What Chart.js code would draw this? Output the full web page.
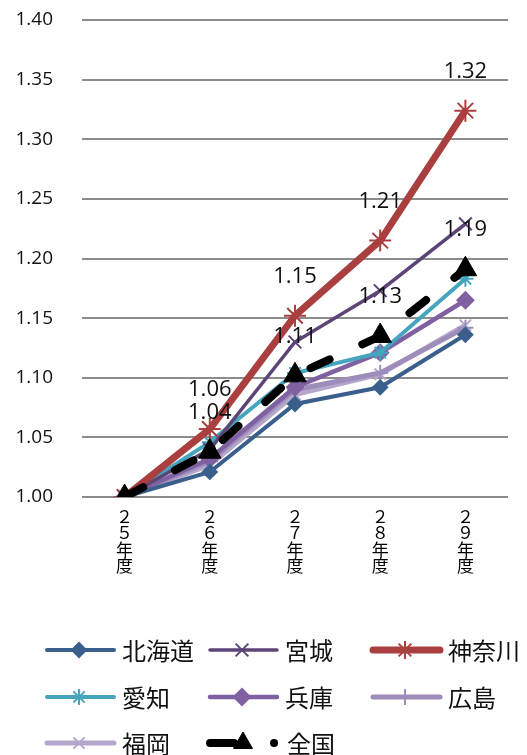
<!DOCTYPE html>
<html>
<head>
<meta charset="utf-8">
<script src="https://cdn.jsdelivr.net/npm/chart.js@4/dist/chart.umd.min.js"></script>
<style>
    html, body { margin: 0; padding: 0; background: #fff; }
    #wrap { width: 527px; height: 755px; }
</style>
</head>
<body>
<div id="wrap"><canvas id="chart" width="527" height="755"></canvas></div>
<script>
// categories (vertical labels, one char per line)
const years = [["２", "５", "年", "度"], ["２", "６", "年", "度"], ["２", "７", "年", "度"], ["２", "８", "年", "度"], ["２", "９", "年", "度"]];

// series values (index, 25年度 = 1.00)
const hokkaido = [1.00, 1.021, 1.078, 1.092, 1.136];
const miyagi = [1.00, 1.040, 1.130, 1.173, 1.229];
const kanagawa = [1.00, 1.057, 1.152, 1.215, 1.324];
const aichi = [1.00, 1.046, 1.104, 1.121, 1.183];
const hyogo = [1.00, 1.032, 1.092, 1.121, 1.165];
const hiroshima = [1.00, 1.030, 1.090, 1.104, 1.142];
const fukuoka = [1.00, 1.027, 1.086, 1.103, 1.144];
const zenkoku = [1.00, 1.038, 1.102, 1.135, 1.191];

// data labels shown on the chart
const kanagawaLabels = ["", "1.06", "1.15", "1.21", "1.32"];
const zenkokuLabels = ["", "1.04", "1.11", "1.13", "1.19"];

// y axis ticks
const yMin = 1.00;
const yMax = 1.40;
const yStep = 0.05;

const JP_FONT = "'Noto Sans CJK JP', 'Noto Sans', sans-serif";

function series(label, data, color, width, style, radius, extra) {
    return Object.assign({
        label: label,
        data: data,
        borderColor: color,
        backgroundColor: color,
        borderWidth: width,
        pointStyle: style,
        pointRadius: radius,
        pointHoverRadius: radius,
        pointBackgroundColor: color,
        pointBorderColor: color,
        pointBorderWidth: 2,
        tension: 0,
        fill: false,
        order: 2
    }, extra || {});
}

const datasets = [
    series("北海道", hokkaido, "#3a5f8c", 4, "rectRot", 7),
    series("宮城", miyagi, "#5c4576", 3.5, "crossRot", 9),
    series("神奈川", kanagawa, "#a9403f", 7, "star", 11, { order: 1, valueLabels: kanagawaLabels }),
    series("愛知", aichi, "#45a5bf", 4, "star", 8),
    series("兵庫", hyogo, "#7f61a1", 4.5, "rectRot", 8),
    series("広島", hiroshima, "#9e8cbb", 5, "cross", 8),
    series("福岡", fukuoka, "#b5a7cb", 5, "crossRot", 8),
    series("全国", zenkoku, "#000000", 8, "triangle", 13, {
        order: 0,
        borderDash: [21, 36],
        borderCapStyle: "round",
        pointBorderWidth: 1,
        valueLabels: zenkokuLabels,
        legendDash: [24, 40, 0.1, 100]
    })
];

// draws the text labels above selected points
const valueLabelPlugin = {
    id: "valueLabels",
    afterDatasetsDraw(chart) {
        const ctx = chart.ctx;
        ctx.save();
        ctx.font = "22px 'Open Sans', sans-serif";
        ctx.fillStyle = "#111";
        ctx.textAlign = "center";
        ctx.textBaseline = "middle";
        chart.data.datasets.forEach((ds, i) => {
            if (!ds.valueLabels) return;
            const meta = chart.getDatasetMeta(i);
            meta.data.forEach((pt, j) => {
                const txt = ds.valueLabels[j];
                if (txt) ctx.fillText(txt, pt.x, pt.y - 39);
            });
        });
        ctx.restore();
    }
};

// legend laid out in a 3-column grid like the original
const gridLegendPlugin = {
    id: "gridLegend",
    afterDraw(chart) {
        const ctx = chart.ctx;
        const colX = [44, 207, 370];
        const rowY = [650, 697, 743];
        const lineLen = 70;
        ctx.save();
        chart.data.datasets.forEach((ds, i) => {
            const x = colX[i % 3];
            const y = rowY[Math.floor(i / 3)];
            const isZenkoku = ds.label === "全国";
            ctx.strokeStyle = ds.borderColor;
            ctx.fillStyle = ds.backgroundColor;
            ctx.lineWidth = ds.borderWidth;
            ctx.lineCap = "round";
            ctx.setLineDash(ds.legendDash || []);
            ctx.beginPath();
            ctx.moveTo(x + 3, y);
            ctx.lineTo(x + lineLen, y);
            ctx.stroke();
            ctx.setLineDash([]);
            ctx.lineCap = "butt";
            ctx.lineWidth = ds.pointBorderWidth;
            const r = isZenkoku ? 11 : Math.min(ds.pointRadius, 9);
            const px = isZenkoku ? x + 36 : x + lineLen / 2;
            Chart.helpers.drawPoint(ctx, { pointStyle: ds.pointStyle, radius: r, rotation: 0, borderWidth: ds.pointBorderWidth }, px, y);
            ctx.fillStyle = "#111";
            ctx.font = "24px " + JP_FONT;
            ctx.textAlign = "left";
            ctx.textBaseline = "middle";
            ctx.fillText(ds.label, x + lineLen + 8 + (isZenkoku ? 2 : 0), y + 1);
        });
        ctx.restore();
    }
};

new Chart(document.getElementById("chart"), {
    type: "line",
    data: {
        labels: years,
        datasets: datasets
    },
    options: {
        responsive: false,
        animation: false,
        layout: {
            padding: { top: 0, right: 19, bottom: 178, left: 0 }
        },
        plugins: {
            legend: { display: false },
            tooltip: { enabled: false }
        },
        scales: {
            x: {
                offset: true,
                grid: { display: false, drawTicks: false },
                border: { display: false },
                ticks: {
                    color: "#000",
                    padding: 11,
                    maxRotation: 0,
                    font: { family: JP_FONT, size: 17, lineHeight: 0.97 }
                },
                afterFit(scale) { scale.height = 80; }
            },
            y: {
                min: yMin,
                max: yMax,
                grid: { color: "#8c8c8c", lineWidth: 2, drawTicks: false },
                border: { display: false },
                ticks: {
                    stepSize: yStep,
                    padding: 29,
                    color: "#111",
                    font: { family: "'Open Sans', sans-serif", size: 19 },
                    callback: (v) => v.toFixed(2)
                },
                afterFit(scale) {
                    scale.width = 82;
                    scale.paddingTop = 20;
                }
            }
        }
    },
    plugins: [valueLabelPlugin, gridLegendPlugin]
});
</script>
</body>
</html>
